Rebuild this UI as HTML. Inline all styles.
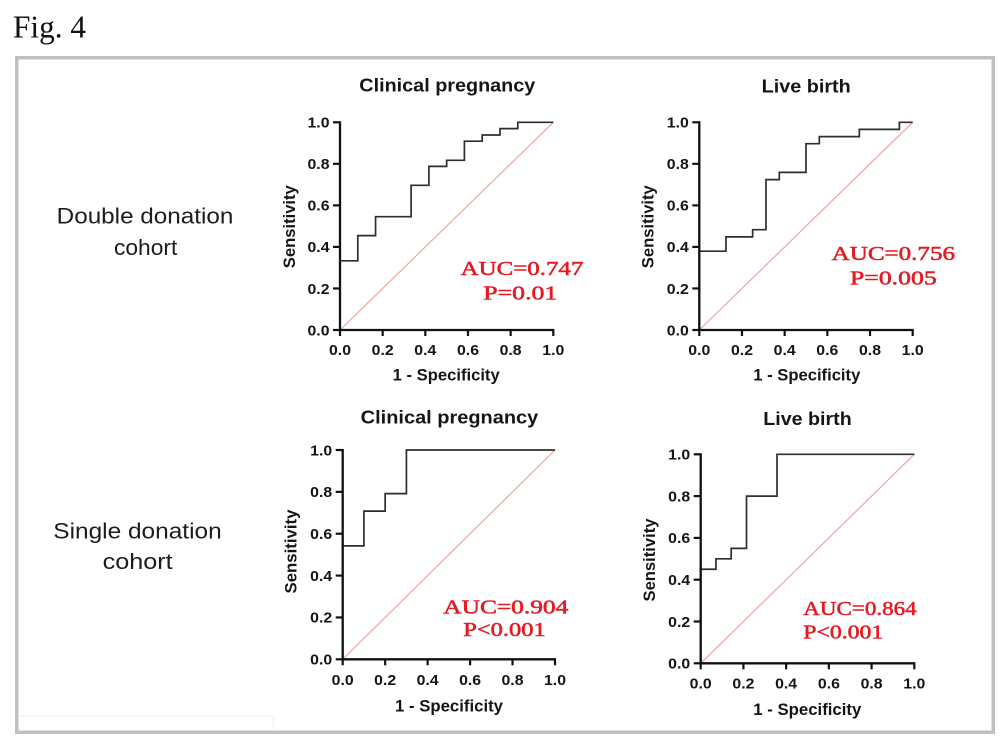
<!DOCTYPE html>
<html>
<head>
<meta charset="utf-8">
<style>
html,body{margin:0;padding:0;background:#fff;}
svg{display:block;}
.t{font-family:"Liberation Sans",Arial,sans-serif;font-weight:bold;fill:#151515;}
.tk{font-size:15px;}
.ti{font-size:18px;}
.ax{font-size:16.5px;}
.auc{font-family:"Liberation Serif","Times New Roman",serif;font-size:20px;fill:#e31b23;stroke:#e31b23;stroke-width:0.55px;}
.lab{font-family:"Liberation Sans",Arial,sans-serif;font-size:22px;fill:#1c1c1c;}
</style>
</head>
<body>
<svg width="1003" height="741" viewBox="0 0 1003 741" xmlns="http://www.w3.org/2000/svg">
<rect width="1003" height="741" fill="#fff"/>
<text x="13" y="37.3" font-family="Liberation Serif, Times New Roman, serif" font-size="32" fill="#111" textLength="73" lengthAdjust="spacingAndGlyphs">Fig. 4</text>
<rect x="16.75" y="57.75" width="976.5" height="674.5" fill="none" stroke="#c0c0c0" stroke-width="3.5"/>
<line x1="18.5" y1="716" x2="273" y2="716" stroke="#f0f0f0" stroke-width="1"/>
<line x1="273" y1="716" x2="273" y2="730" stroke="#f2f2f2" stroke-width="1"/>

<!-- Left labels -->
<text class="lab" x="56.7" y="223.3" textLength="176.7" lengthAdjust="spacingAndGlyphs">Double donation</text>
<text class="lab" x="114" y="255" textLength="63.3" lengthAdjust="spacingAndGlyphs">cohort</text>
<text class="lab" x="53.3" y="538.3" textLength="168.4" lengthAdjust="spacingAndGlyphs">Single donation</text>
<text class="lab" x="102.7" y="569" textLength="70" lengthAdjust="spacingAndGlyphs">cohort</text>

<!-- ================= Panel TL ================= -->
<g>
<line x1="340" y1="330" x2="553.3" y2="122.3" stroke="#eaa79f" stroke-width="1.2"/>
<path d="M340,330 V260.8 H357.8 V235.6 H375.55 V216.7 H411.1 V185.3 H428.9 V166.4 H446.65 V160.3 H464.4 V141.2 H482.2 V135 H500 V128.6 H517.75 V122.3 H553.3" fill="none" stroke="#2e2e2e" stroke-width="1.7"/>
<path d="M340,121.3 V330 H554.3" fill="none" stroke="#111" stroke-width="2.3"/>
<g stroke="#111" stroke-width="2.2">
<line x1="333" y1="330" x2="340" y2="330"/><line x1="333" y1="288.46" x2="340" y2="288.46"/><line x1="333" y1="246.92" x2="340" y2="246.92"/><line x1="333" y1="205.38" x2="340" y2="205.38"/><line x1="333" y1="163.84" x2="340" y2="163.84"/><line x1="333" y1="122.3" x2="340" y2="122.3"/>
<line x1="340" y1="330" x2="340" y2="336"/><line x1="382.66" y1="330" x2="382.66" y2="336"/><line x1="425.32" y1="330" x2="425.32" y2="336"/><line x1="467.98" y1="330" x2="467.98" y2="336"/><line x1="510.64" y1="330" x2="510.64" y2="336"/><line x1="553.3" y1="330" x2="553.3" y2="336"/>
</g>
<g class="t tk">
<text x="307.5" y="335.3" textLength="22" lengthAdjust="spacingAndGlyphs">0.0</text>
<text x="307.5" y="293.8" textLength="22" lengthAdjust="spacingAndGlyphs">0.2</text>
<text x="307.5" y="252.2" textLength="22" lengthAdjust="spacingAndGlyphs">0.4</text>
<text x="307.5" y="210.7" textLength="22" lengthAdjust="spacingAndGlyphs">0.6</text>
<text x="307.5" y="169.1" textLength="22" lengthAdjust="spacingAndGlyphs">0.8</text>
<text x="307.5" y="127.6" textLength="22" lengthAdjust="spacingAndGlyphs">1.0</text>
<text x="329" y="355" textLength="22" lengthAdjust="spacingAndGlyphs">0.0</text>
<text x="371.7" y="355" textLength="22" lengthAdjust="spacingAndGlyphs">0.2</text>
<text x="414.3" y="355" textLength="22" lengthAdjust="spacingAndGlyphs">0.4</text>
<text x="457" y="355" textLength="22" lengthAdjust="spacingAndGlyphs">0.6</text>
<text x="499.6" y="355" textLength="22" lengthAdjust="spacingAndGlyphs">0.8</text>
<text x="542.3" y="355" textLength="22" lengthAdjust="spacingAndGlyphs">1.0</text>
</g>
<text class="t ti" x="359.3" y="91.7" textLength="176" lengthAdjust="spacingAndGlyphs">Clinical pregnancy</text>
<text class="t ax" x="392.7" y="380.7" textLength="107" lengthAdjust="spacingAndGlyphs">1 - Specificity</text>
<text class="t ax" transform="translate(295,226.7) rotate(-90)" x="-41.5" y="0" textLength="83" lengthAdjust="spacingAndGlyphs">Sensitivity</text>
<text class="auc" x="460.7" y="275" textLength="122.6" lengthAdjust="spacingAndGlyphs">AUC=0.747</text>
<text class="auc" x="483.3" y="299.3" textLength="74" lengthAdjust="spacingAndGlyphs">P=0.01</text>
</g>

<!-- ================= Panel TR ================= -->
<g>
<line x1="699.3" y1="330" x2="912.7" y2="122.3" stroke="#eaa79f" stroke-width="1.2"/>
<path d="M699.3,330 V251.2 H725.98 V236.9 H752.65 V229.7 H766 V179.6 H779.3 V172.4 H806 V143.7 H819.3 V136.6 H859.35 V129.4 H899.4 V122.3 H912.7" fill="none" stroke="#2e2e2e" stroke-width="1.7"/>
<path d="M699.3,121.3 V330 H913.7" fill="none" stroke="#111" stroke-width="2.3"/>
<g stroke="#111" stroke-width="2.2">
<line x1="692.3" y1="330" x2="699.3" y2="330"/><line x1="692.3" y1="288.46" x2="699.3" y2="288.46"/><line x1="692.3" y1="246.92" x2="699.3" y2="246.92"/><line x1="692.3" y1="205.38" x2="699.3" y2="205.38"/><line x1="692.3" y1="163.84" x2="699.3" y2="163.84"/><line x1="692.3" y1="122.3" x2="699.3" y2="122.3"/>
<line x1="699.3" y1="330" x2="699.3" y2="336"/><line x1="741.98" y1="330" x2="741.98" y2="336"/><line x1="784.66" y1="330" x2="784.66" y2="336"/><line x1="827.34" y1="330" x2="827.34" y2="336"/><line x1="870.02" y1="330" x2="870.02" y2="336"/><line x1="912.7" y1="330" x2="912.7" y2="336"/>
</g>
<g class="t tk">
<text x="666.8" y="335.3" textLength="22" lengthAdjust="spacingAndGlyphs">0.0</text>
<text x="666.8" y="293.8" textLength="22" lengthAdjust="spacingAndGlyphs">0.2</text>
<text x="666.8" y="252.2" textLength="22" lengthAdjust="spacingAndGlyphs">0.4</text>
<text x="666.8" y="210.7" textLength="22" lengthAdjust="spacingAndGlyphs">0.6</text>
<text x="666.8" y="169.1" textLength="22" lengthAdjust="spacingAndGlyphs">0.8</text>
<text x="666.8" y="127.6" textLength="22" lengthAdjust="spacingAndGlyphs">1.0</text>
<text x="688.3" y="355" textLength="22" lengthAdjust="spacingAndGlyphs">0.0</text>
<text x="731" y="355" textLength="22" lengthAdjust="spacingAndGlyphs">0.2</text>
<text x="773.7" y="355" textLength="22" lengthAdjust="spacingAndGlyphs">0.4</text>
<text x="816.3" y="355" textLength="22" lengthAdjust="spacingAndGlyphs">0.6</text>
<text x="859" y="355" textLength="22" lengthAdjust="spacingAndGlyphs">0.8</text>
<text x="901.7" y="355" textLength="22" lengthAdjust="spacingAndGlyphs">1.0</text>
</g>
<text class="t ti" x="761.7" y="92.3" textLength="89" lengthAdjust="spacingAndGlyphs">Live birth</text>
<text class="t ax" x="753.3" y="380.7" textLength="107" lengthAdjust="spacingAndGlyphs">1 - Specificity</text>
<text class="t ax" transform="translate(653.5,226.7) rotate(-90)" x="-41.5" y="0" textLength="83" lengthAdjust="spacingAndGlyphs">Sensitivity</text>
<text class="auc" x="831.7" y="260" textLength="123.3" lengthAdjust="spacingAndGlyphs">AUC=0.756</text>
<text class="auc" x="850" y="284.5" textLength="86.7" lengthAdjust="spacingAndGlyphs">P=0.005</text>
</g>

<!-- ================= Panel BL ================= -->
<g>
<line x1="342.7" y1="659.3" x2="555" y2="450" stroke="#eaa79f" stroke-width="1.2"/>
<path d="M342.7,659.3 V545.9 H363.93 V511.1 H385.16 V493.6 H406.4 V450 H555" fill="none" stroke="#2e2e2e" stroke-width="1.7"/>
<path d="M342.7,449 V659.3 H556" fill="none" stroke="#111" stroke-width="2.3"/>
<g stroke="#111" stroke-width="2.2">
<line x1="335.7" y1="659.3" x2="342.7" y2="659.3"/><line x1="335.7" y1="617.44" x2="342.7" y2="617.44"/><line x1="335.7" y1="575.58" x2="342.7" y2="575.58"/><line x1="335.7" y1="533.72" x2="342.7" y2="533.72"/><line x1="335.7" y1="491.86" x2="342.7" y2="491.86"/><line x1="335.7" y1="450" x2="342.7" y2="450"/>
<line x1="342.7" y1="659.3" x2="342.7" y2="665.3"/><line x1="385.16" y1="659.3" x2="385.16" y2="665.3"/><line x1="427.62" y1="659.3" x2="427.62" y2="665.3"/><line x1="470.08" y1="659.3" x2="470.08" y2="665.3"/><line x1="512.54" y1="659.3" x2="512.54" y2="665.3"/><line x1="555" y1="659.3" x2="555" y2="665.3"/>
</g>
<g class="t tk">
<text x="310.2" y="664.6" textLength="22" lengthAdjust="spacingAndGlyphs">0.0</text>
<text x="310.2" y="622.7" textLength="22" lengthAdjust="spacingAndGlyphs">0.2</text>
<text x="310.2" y="580.9" textLength="22" lengthAdjust="spacingAndGlyphs">0.4</text>
<text x="310.2" y="539" textLength="22" lengthAdjust="spacingAndGlyphs">0.6</text>
<text x="310.2" y="497.2" textLength="22" lengthAdjust="spacingAndGlyphs">0.8</text>
<text x="310.2" y="455.3" textLength="22" lengthAdjust="spacingAndGlyphs">1.0</text>
<text x="331.7" y="685" textLength="22" lengthAdjust="spacingAndGlyphs">0.0</text>
<text x="374.2" y="685" textLength="22" lengthAdjust="spacingAndGlyphs">0.2</text>
<text x="416.6" y="685" textLength="22" lengthAdjust="spacingAndGlyphs">0.4</text>
<text x="459.1" y="685" textLength="22" lengthAdjust="spacingAndGlyphs">0.6</text>
<text x="501.5" y="685" textLength="22" lengthAdjust="spacingAndGlyphs">0.8</text>
<text x="544" y="685" textLength="22" lengthAdjust="spacingAndGlyphs">1.0</text>
</g>
<text class="t ti" x="360.7" y="423.3" textLength="177.6" lengthAdjust="spacingAndGlyphs">Clinical pregnancy</text>
<text class="t ax" x="395" y="711.7" textLength="108" lengthAdjust="spacingAndGlyphs">1 - Specificity</text>
<text class="t ax" transform="translate(296.5,552) rotate(-90)" x="-41.5" y="0" textLength="84" lengthAdjust="spacingAndGlyphs">Sensitivity</text>
<text class="auc" x="443.3" y="613.3" textLength="125" lengthAdjust="spacingAndGlyphs">AUC=0.904</text>
<text class="auc" x="463.3" y="636" textLength="82.4" lengthAdjust="spacingAndGlyphs">P&lt;0.001</text>
</g>

<!-- ================= Panel BR ================= -->
<g>
<line x1="700.7" y1="663.3" x2="914.3" y2="454.3" stroke="#eaa79f" stroke-width="1.2"/>
<path d="M700.7,663.3 V569.25 H715.96 V558.8 H731.2 V548.35 H746.5 V496.1 H777 V454.3 H914.3" fill="none" stroke="#2e2e2e" stroke-width="1.7"/>
<path d="M700.7,453.3 V663.3 H915.3" fill="none" stroke="#111" stroke-width="2.3"/>
<g stroke="#111" stroke-width="2.2">
<line x1="693.7" y1="663.3" x2="700.7" y2="663.3"/><line x1="693.7" y1="621.5" x2="700.7" y2="621.5"/><line x1="693.7" y1="579.7" x2="700.7" y2="579.7"/><line x1="693.7" y1="537.9" x2="700.7" y2="537.9"/><line x1="693.7" y1="496.1" x2="700.7" y2="496.1"/><line x1="693.7" y1="454.3" x2="700.7" y2="454.3"/>
<line x1="700.7" y1="663.3" x2="700.7" y2="669.3"/><line x1="743.42" y1="663.3" x2="743.42" y2="669.3"/><line x1="786.14" y1="663.3" x2="786.14" y2="669.3"/><line x1="828.86" y1="663.3" x2="828.86" y2="669.3"/><line x1="871.58" y1="663.3" x2="871.58" y2="669.3"/><line x1="914.3" y1="663.3" x2="914.3" y2="669.3"/>
</g>
<g class="t tk">
<text x="668.2" y="668.6" textLength="22" lengthAdjust="spacingAndGlyphs">0.0</text>
<text x="668.2" y="626.8" textLength="22" lengthAdjust="spacingAndGlyphs">0.2</text>
<text x="668.2" y="585" textLength="22" lengthAdjust="spacingAndGlyphs">0.4</text>
<text x="668.2" y="543.2" textLength="22" lengthAdjust="spacingAndGlyphs">0.6</text>
<text x="668.2" y="501.4" textLength="22" lengthAdjust="spacingAndGlyphs">0.8</text>
<text x="668.2" y="459.6" textLength="22" lengthAdjust="spacingAndGlyphs">1.0</text>
<text x="689.7" y="688.5" textLength="22" lengthAdjust="spacingAndGlyphs">0.0</text>
<text x="732.4" y="688.5" textLength="22" lengthAdjust="spacingAndGlyphs">0.2</text>
<text x="775.1" y="688.5" textLength="22" lengthAdjust="spacingAndGlyphs">0.4</text>
<text x="817.9" y="688.5" textLength="22" lengthAdjust="spacingAndGlyphs">0.6</text>
<text x="860.6" y="688.5" textLength="22" lengthAdjust="spacingAndGlyphs">0.8</text>
<text x="903.3" y="688.5" textLength="22" lengthAdjust="spacingAndGlyphs">1.0</text>
</g>
<text class="t ti" x="763.3" y="425" textLength="88.4" lengthAdjust="spacingAndGlyphs">Live birth</text>
<text class="t ax" x="753.3" y="715" textLength="108" lengthAdjust="spacingAndGlyphs">1 - Specificity</text>
<text class="t ax" transform="translate(655,560) rotate(-90)" x="-41.5" y="0" textLength="83" lengthAdjust="spacingAndGlyphs">Sensitivity</text>
<text class="auc" x="803.3" y="615" textLength="113.4" lengthAdjust="spacingAndGlyphs">AUC=0.864</text>
<text class="auc" x="803.3" y="638.3" textLength="80" lengthAdjust="spacingAndGlyphs">P&lt;0.001</text>
</g>
</svg>
</body>
</html>
